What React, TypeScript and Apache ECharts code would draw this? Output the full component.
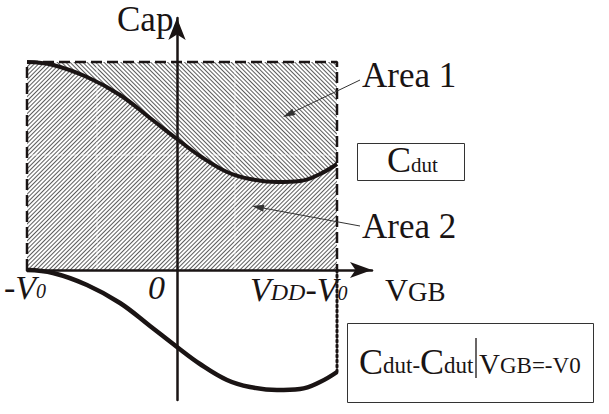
import React, { useEffect, useRef } from "react";
import * as echarts from "echarts";

// ---- data ----
const xTicks = [-1.5, 0, 1.6]; // -V0, 0, VDD-V0
const xTickLabels = ["-V0", "0", "VDD-V0"];
const capTop = [2.08]; // top of the hatched rectangle (Cdut at VGB = -V0)
const curveX = [-1.5, -1.24, -0.9, -0.57, -0.27, 0, 0.23, 0.5, 0.73, 1.0, 1.23, 1.43, 1.6];
const cdut = [2.08, 2.05, 1.93, 1.75, 1.52, 1.31, 1.14, 0.98, 0.91, 0.88, 0.89, 0.96, 1.06];
const cdutShifted = [0, -0.03, -0.15, -0.33, -0.56, -0.77, -0.94, -1.1, -1.17, -1.2, -1.19, -1.12, -1.02];

const FONT = "'Liberation Serif', 'Times New Roman', serif";
const INK = "#1a1414";

function arrow(x1: number, y1: number, x2: number, y2: number, len = 12, half = 3.5) {
  const dx = x2 - x1, dy = y2 - y1;
  const L = Math.hypot(dx, dy);
  const ux = dx / L, uy = dy / L;
  const bx = x2 - ux * len, by = y2 - uy * len;
  const px = -uy * half, py = ux * half;
  return [
    { type: "line", z: 10, shape: { x1, y1, x2: bx, y2: by }, style: { stroke: "#333", lineWidth: 1 } },
    {
      type: "polygon", z: 10,
      shape: { points: [[x2, y2], [bx + px, by + py], [bx - px, by - py]] },
      style: { fill: "#333" },
    },
  ];
}

export default function App() {
  const ref = useRef<HTMLDivElement>(null);
  useEffect(() => {
    if (!ref.current) return;
    const chart = echarts.init(ref.current, null, { renderer: "svg" });
    const xMin = xTicks[0], xMax = xTicks[2];
    const top = capTop[0];
    const pts = (ys: number[]) => curveX.map((x, i) => [x, ys[i]]);
    const hatchBack = {
      symbol: "rect", symbolSize: 1, dashArrayX: [1, 0], dashArrayY: [1, 2],
      rotation: Math.PI / 4, color: "#5c5c5c", backgroundColor: "#fff",
    };
    const hatchFwd = { ...hatchBack, rotation: -Math.PI / 4 };
    const txt = (text: string, x: number, y: number, size: number, extra: any = {}) => ({
      type: "text", x, y, z: 10,
      style: { text, fontFamily: FONT, fontSize: size, fill: INK, verticalAlign: "bottom", ...extra },
    });
    const sub = (size: number, italic: boolean, pad: number) => ({
      fontFamily: FONT, fontSize: size, fontStyle: italic ? "italic" : "normal",
      verticalAlign: "bottom", padding: [0, 0, pad, 0], fill: INK,
    });
    const whiteDash = { stroke: "rgba(255,255,255,0.5)", lineWidth: 1.5, lineDash: [10, 3] };
    const option: any = {
      animation: false,
      backgroundColor: "#fff",
      grid: { left: 27, right: 237, top: 18, bottom: 14, containLabel: false, outerBoundsMode: "none" },
      xAxis: {
        type: "value", min: -1.5, max: 1.95, z: 8,
        axisLine: { onZero: true, symbol: ["none", "arrow"], symbolSize: [12, 22], lineStyle: { color: INK, width: 2.5 } },
        axisTick: { show: false }, axisLabel: { show: false }, splitLine: { show: false },
      },
      yAxis: {
        type: "value", min: -1.3, max: 2.52, z: 8,
        axisLine: { onZero: true, symbol: ["none", "arrow"], symbolSize: [13, 22], lineStyle: { color: INK, width: 2.5 } },
        axisTick: { show: false }, axisLabel: { show: false }, splitLine: { show: false },
      },
      series: [
        {
          name: "Area 1", type: "line", symbol: "none", silent: true, z: 1,
          data: [[xMin, top], [xMax, top]],
          lineStyle: { opacity: 0 },
          areaStyle: { color: "#fff", opacity: 1 },
          itemStyle: { decal: hatchBack },
        },
        {
          name: "Area 2", type: "line", symbol: "none", silent: true, smooth: 0.4, z: 2,
          data: pts(cdut),
          lineStyle: { opacity: 0 },
          areaStyle: { color: "#fff", opacity: 1 },
          itemStyle: { decal: hatchFwd },
        },
        {
          name: "border", type: "line", symbol: "none", silent: true, z: 5,
          data: [[xMin, 0], [xMin, top], [xMax, top], [xMax, 0]],
          lineStyle: { color: INK, width: 2.5, type: [11, 5] },
        },
        {
          name: "Cdut", type: "line", symbol: "none", smooth: 0.4, z: 9,
          data: pts(cdut),
          lineStyle: { color: INK, width: 4 },
        },
        {
          name: "Cdut-Cdut|VGB=-V0", type: "line", symbol: "none", smooth: 0.4, z: 9,
          data: pts(cdutShifted),
          lineStyle: { color: INK, width: 4.5 },
        },
        {
          name: "end", type: "line", symbol: "none", z: 5,
          data: [[xMax, 0], [xMax, cdutShifted[cdutShifted.length - 1]]],
          lineStyle: { color: INK, width: 3, type: [2, 3], cap: "round" },
        },
      ],
      graphic: [
        // faint white grid lines inside the hatch
        { type: "line", z: 3, shape: { x1: 97, y1: 64, x2: 97, y2: 268 }, style: whiteDash },
        { type: "line", z: 3, shape: { x1: 235, y1: 64, x2: 235, y2: 268 }, style: whiteDash },
        { type: "line", z: 3, shape: { x1: 29, y1: 155, x2: 335, y2: 155 }, style: whiteDash },
        ...arrow(360, 80, 283, 117),
        ...arrow(360, 226, 252, 206),
        txt("Cap", 117, 37, 35),
        txt("Area 1", 362, 93, 35),
        txt("Area 2", 362, 244, 35),
        {
          type: "text", x: 4, y: 304, z: 10,
          style: {
            text: "{m|-V}{s|0}", verticalAlign: "bottom", fontFamily: FONT,
            rich: { m: sub(34, true, 0), s: sub(20, true, 3) },
          },
        },
        {
          type: "text", x: 148, y: 304, z: 10,
          style: { text: "{m|" + xTickLabels[1] + "}", verticalAlign: "bottom", fontFamily: FONT, rich: { m: sub(34, true, 0) } },
        },
        {
          type: "text", x: 250, y: 306, z: 10,
          style: {
            text: "{m|V}{d|DD}{m|-V}{s|0}", verticalAlign: "bottom", fontFamily: FONT,
            rich: { m: sub(34, true, 0), d: sub(24, true, 2), s: sub(20, true, 3) },
          },
        },
        {
          type: "text", x: 385, y: 306, z: 10,
          style: {
            text: "{m|V}{s|GB}", verticalAlign: "bottom", fontFamily: FONT,
            rich: { m: sub(32, false, 0), s: sub(27, false, 1) },
          },
        },
        { type: "rect", z: 10, shape: { x: 357.5, y: 143.5, width: 107, height: 37 }, style: { fill: "none", stroke: "#333", lineWidth: 1 } },
        {
          type: "text", x: 387, y: 178, z: 10,
          style: {
            text: "{m|C}{s|dut}", verticalAlign: "bottom", fontFamily: FONT,
            rich: { m: sub(36, false, 0), s: sub(21, false, 3) },
          },
        },
        { type: "rect", z: 10, shape: { x: 347.5, y: 323.5, width: 246, height: 79 }, style: { fill: "none", stroke: "#333", lineWidth: 1 } },
        {
          type: "text", x: 359, y: 380, z: 10,
          style: {
            text: "{m|C}{s|dut-}{m|C}{s|dut}", verticalAlign: "bottom", fontFamily: FONT,
            rich: { m: sub(36, false, 0), s: sub(23, false, 3) },
          },
        },
        { type: "line", z: 10, shape: { x1: 476, y1: 338, x2: 476, y2: 378 }, style: { stroke: INK, lineWidth: 1.3 } },
        {
          type: "text", x: 479, y: 378, z: 10,
          style: {
            text: "{m|V}{s|GB=-V0}", verticalAlign: "bottom", fontFamily: FONT,
            rich: { m: sub(29, false, 0), s: sub(23, false, 1) },
          },
        },
      ],
    };
    chart.setOption(option);
    return () => chart.dispose();
  }, []);
  return <div ref={ref} style={{ width: 609, height: 414, position: "absolute", left: 0, top: 0 }} />;
}
